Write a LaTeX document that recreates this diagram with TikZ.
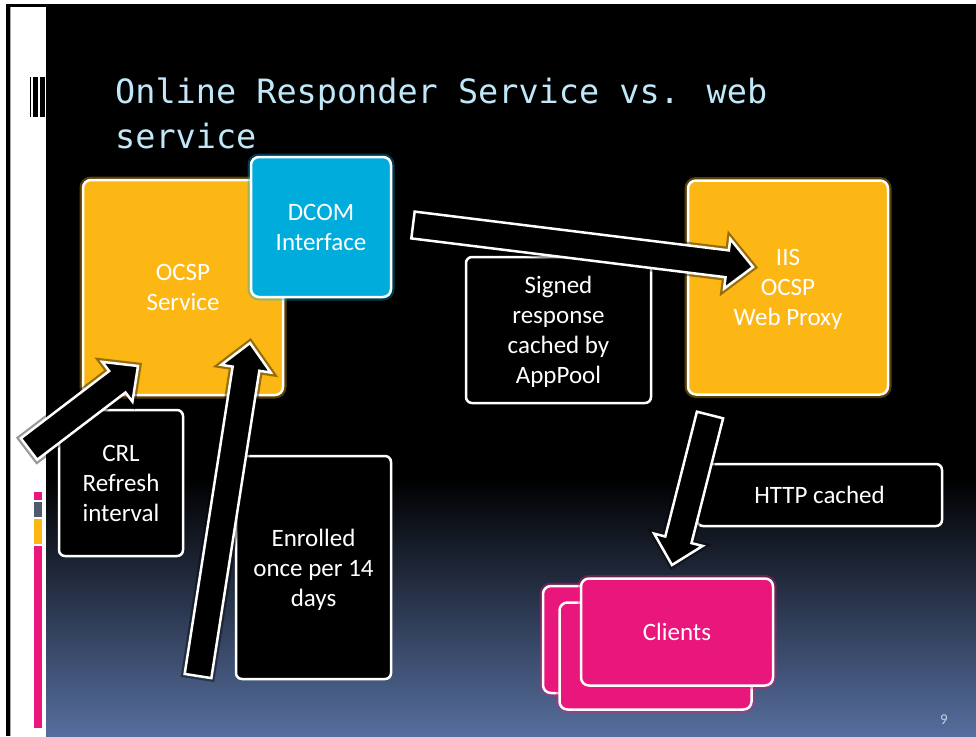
\documentclass[tikz,border=0pt]{standalone}
\usepackage{fontspec}
\setmainfont{Carlito}
\newfontfamily\titlefont{DejaVu Sans Mono}
\usepackage{tikz}
\usetikzlibrary{calc}
\usepackage{xcolor}
\definecolor{ocspyellow}{RGB}{253,183,20}
\definecolor{dcomblue}{RGB}{0,172,220}
\definecolor{clientpink}{RGB}{233,22,123}
\definecolor{titleblue}{RGB}{192,232,248}
\definecolor{slideblue}{RGB}{86,110,158}
\definecolor{stripgrey}{RGB}{80,90,108}
\definecolor{pagegrey}{RGB}{196,208,228}
\tikzset{
  box/.style={
    rectangle, rounded corners=8pt, draw=white, line width=2.5pt,
    text=white, align=center, font=\fontsize{25}{30}\selectfont
  },
  nudge/.style={text depth=#1},
  service/.style={
    box, fill=#1, preaction={draw=#1, line width=7pt, opacity=0.35}
  },
  note/.style={box, rounded corners=6pt, fill=black},
  client/.style={service=clientpink, minimum width=192pt, minimum height=107pt},
  blockarrow/.style={
    draw=white, line width=2.5pt, fill=black, line join=miter,
    preaction={draw=black, line width=7pt, opacity=0.4}
  },
  slidetitle/.style={anchor=base west, inner sep=0pt, text=titleblue,
    font=\titlefont\fontsize{33.5}{45}\selectfont}
}
\newcommand\bigarrow[2]{%
  \coordinate (h) at ($(#2)!26pt!(#1)$);
  \draw[blockarrow] ($(#1)!13.5pt!90:(#2)$) -- ($(h)!13.5pt!-90:(#1)$)
    -- ($(h)!25pt!-90:(#1)$) -- (#2) -- ($(h)!25pt!90:(#1)$)
    -- ($(h)!13.5pt!90:(#1)$) -- ($(#1)!13.5pt!-90:(#2)$) -- cycle;}

\begin{document}
\begin{tikzpicture}[x=1pt, y=-1pt]
  \useasboundingbox (0,0) rectangle (976,736);
  \fill[white] (0,0) rectangle (976,736);
  \fill[black] (6,4) rectangle (976,736);
  \fill[white] (9.5,6.5) rectangle (46,736);
  \draw[black!35, line width=1pt] (10,6.5) -- (10,736);
  \fill[black] (46,6) rectangle (976,480);
  \shade[top color=black, bottom color=slideblue] (46,479.5) rectangle (976,736);
  \foreach \xa/\xb in {30/31.3, 33.3/37.7, 40/45}
    \fill[black] (\xa,77) rectangle (\xb,117);
  \foreach \ya/\yb/\c in {492/500/clientpink, 502/517/stripgrey,
                          519/544/ocspyellow, 546/728/clientpink}
    \fill[\c] (34,\ya) rectangle (42,\yb);

  \node[slidetitle] (title) at (115,103) {Online Responder Service vs. web};
  \node[slidetitle] (title2) at ($(title.base west)+(0,45)$) {service};

  \node[service=ocspyellow, minimum width=200pt, minimum height=215pt] (ocsp)
    at (183,287.5) {OCSP\\Service};
  \node[service=dcomblue, minimum width=140pt, minimum height=140pt] (dcom)
    at (321,227) {DCOM\\Interface};
  \node[service=ocspyellow, nudge=-9pt, minimum width=200pt, minimum height=214pt] (iis)
    at (788,287.5) {IIS\\OCSP\\Web Proxy};
  \node[note, nudge=-7pt, minimum width=185pt, minimum height=146pt] (signed)
    at (558.5,330) {Signed\\response\\cached by\\AppPool};
  \node[note, nudge=-6pt, minimum width=124pt, minimum height=146pt] (crl)
    at (121,483) {CRL\\Refresh\\interval};
  \node[note, nudge=-7pt, minimum width=155pt, minimum height=223pt] (enrolled)
    at (313.5,567.5) {Enrolled\\once per 14\\days};
  \node[note, minimum width=245pt, minimum height=62pt] (http)
    at (819.5,495) {HTTP cached};
  \node[client] (clientsback) at (639,639.5) {};
  \node[client] (clientsmid) at (655.5,656) {};
  \node[client] (clients) at (677,632) {Clients};

  \coordinate (crltail) at (29,449);
  \coordinate (crltip) at (138,366);
  \coordinate (enrtail) at (198,676);
  \coordinate (enrtip) at (250,343);
  \coordinate (dcomtail) at (413,225);
  \coordinate (dcomtip) at (753,267);
  \coordinate (httptail) at (710,415);
  \coordinate (httptip) at (672,565);
  \bigarrow{crltail}{crltip}
  \bigarrow{enrtail}{enrtip}
  \bigarrow{dcomtail}{dcomtip}
  \bigarrow{httptail}{httptip}

  \node[text=pagegrey, font=\fontsize{15}{17}\selectfont] (pagenum) at (944,720) {9};
\end{tikzpicture}
\end{document}
